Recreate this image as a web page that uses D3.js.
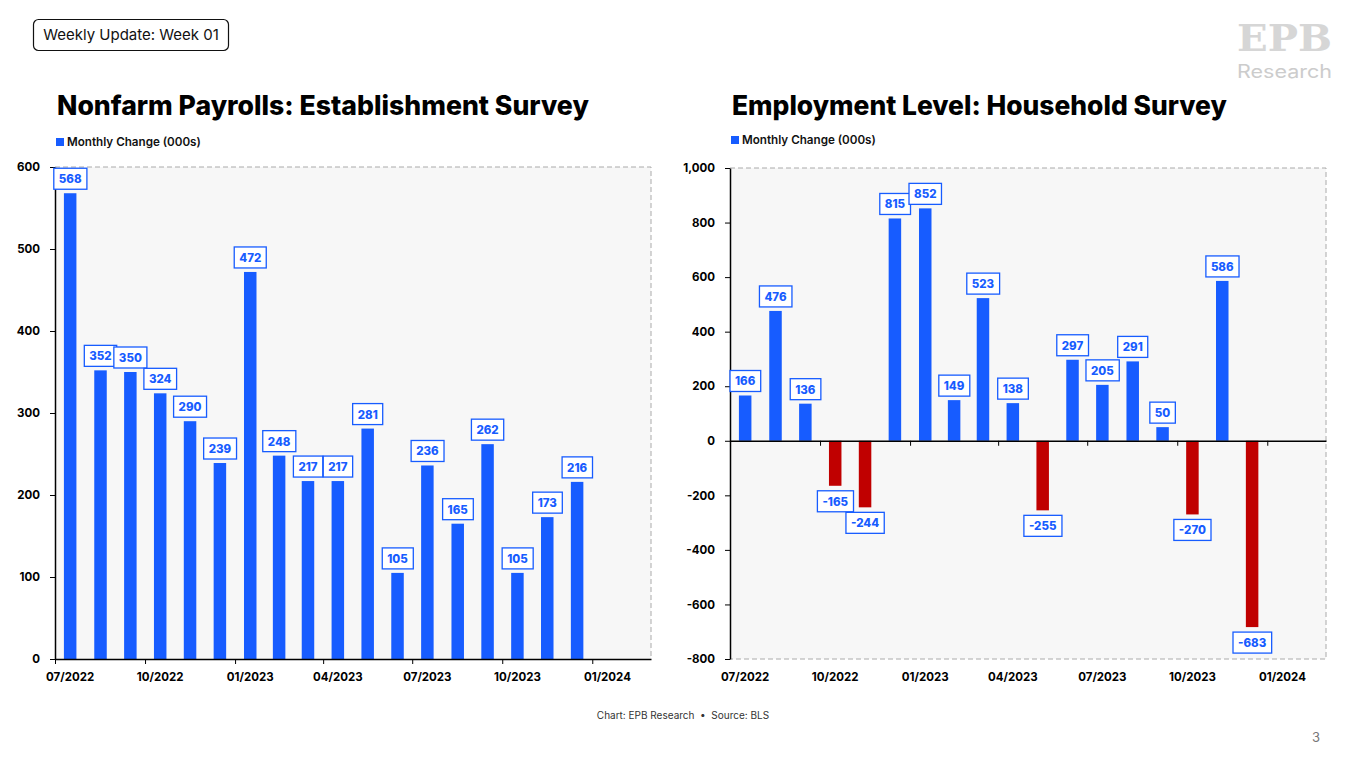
<!DOCTYPE html>
<html>
<head>
<meta charset="utf-8">
<script src="https://cdn.jsdelivr.net/npm/d3@7"></script>
<style>
  body { margin: 0; background: #fff; }
  svg { display: block; font-family: Inter, "Open Sans", sans-serif; }
</style>
</head>
<body>
<div id="chart"></div>
<script>
// Monthly data, Jul 2022 - Dec 2023
const months = ["2022-07", "2022-08", "2022-09", "2022-10", "2022-11", "2022-12",
  "2023-01", "2023-02", "2023-03", "2023-04", "2023-05", "2023-06",
  "2023-07", "2023-08", "2023-09", "2023-10", "2023-11", "2023-12"];
const payrolls = [568, 352, 350, 324, 290, 239, 472, 248, 217, 217, 281, 105, 236, 165, 262, 105, 173, 216];
const household = [166, 476, 136, -165, -244, 815, 852, 149, 523, 138, -255, 297, 205, 291, 50, -270, 586, -683];
const quarterMonths = ["2022-07", "2022-10", "2023-01", "2023-04", "2023-07", "2023-10", "2024-01"];
const quarterLabels = ["07/2022", "10/2022", "01/2023", "04/2023", "07/2023", "10/2023", "01/2024"];
const payrollTicks = [0, 100, 200, 300, 400, 500, 600];
const householdTicks = [-800, -600, -400, -200, 0, 200, 400, 600, 800, 1000];

const width = 1366;
const height = 767;
const blue = "#175cff";
const red = "#c00000";

const parseMonth = d3.timeParse("%Y-%m");
const fmt = d3.formatLocale({ decimal: ".", thousands: ",", grouping: [3], currency: ["$", ""], minus: "-" });

const svg = d3.select("#chart")
  .append("svg")
  .attr("width", width)
  .attr("height", height);

// header box
svg.append("rect")
  .attr("x", 33.5).attr("y", 19.5)
  .attr("width", 195).attr("height", 31)
  .attr("rx", 5)
  .attr("fill", "none")
  .attr("stroke", "#111")
  .attr("stroke-width", 1.2);

svg.append("text")
  .attr("x", 131).attr("y", 40)
  .attr("text-anchor", "middle")
  .style("font-size", "15px")
  .style("fill", "#111")
  .text("Weekly Update: Week 01");

// logo
svg.append("text")
  .attr("x", 1237).attr("y", 51)
  .attr("textLength", 95)
  .attr("lengthAdjust", "spacingAndGlyphs")
  .style("font-family", "'DejaVu Serif', serif")
  .style("font-weight", "bold")
  .style("font-size", "38px")
  .style("fill", "#d6d6d6")
  .text("EPB");

svg.append("text")
  .attr("x", 1237).attr("y", 78)
  .attr("textLength", 95)
  .attr("lengthAdjust", "spacingAndGlyphs")
  .style("font-size", "18px")
  .style("fill", "#cccccc")
  .text("Research");

// footer
svg.append("text")
  .attr("x", 683).attr("y", 719)
  .attr("text-anchor", "middle")
  .attr("xml:space", "preserve")
  .style("font-size", "10px")
  .style("fill", "#333")
  .text("Chart: EPB Research  \u2022  Source: BLS");

svg.append("text")
  .attr("x", 1316).attr("y", 742)
  .attr("text-anchor", "middle")
  .style("font-size", "13px")
  .style("fill", "#777")
  .text("3");

// shrink/grow font so the text spans the wanted width
function fitText(sel, target) {
  const w = sel.node().getComputedTextLength();
  const size = parseFloat(sel.style("font-size"));
  sel.style("font-size", (size * target / w) + "px");
}

function drawPanel(cfg) {
  const g = svg.append("g");
  const dates = months.map(parseMonth);
  const midMonth = d => new Date((d.getTime() + d3.timeMonth.offset(d, 1).getTime()) / 2);

  const x = d3.scaleTime()
    .domain([parseMonth("2022-07"), parseMonth("2024-03")])
    .range([cfg.left, cfg.right]);

  const y = d3.scaleLinear()
    .domain(cfg.domain)
    .range([cfg.bottom, cfg.top]);

  // title + legend
  const title = g.append("text")
    .attr("x", cfg.left + 2).attr("y", 115)
    .style("font-size", "26px")
    .style("font-weight", 800)
    .style("fill", "#000")
    .text(cfg.title);
  fitText(title, cfg.titleWidth);

  g.append("rect")
    .attr("x", cfg.left + 1).attr("y", cfg.legendY - 8)
    .attr("width", 8).attr("height", 8)
    .attr("fill", blue);
  const leg = g.append("text")
    .attr("x", cfg.left + 12).attr("y", cfg.legendY)
    .style("font-size", "11px")
    .style("font-weight", 600)
    .style("fill", "#111")
    .text("Monthly Change (000s)");
  fitText(leg, 134);

  // plot background with dashed frame
  g.append("rect")
    .attr("x", cfg.left).attr("y", cfg.top)
    .attr("width", cfg.right - cfg.left).attr("height", cfg.bottom - cfg.top)
    .attr("fill", "#f7f7f7");

  const frame = [[cfg.left, cfg.top], [cfg.right, cfg.top], [cfg.right, cfg.bottom]];
  if (cfg.domain[0] < 0) frame.push([cfg.left, cfg.bottom]);
  g.append("path")
    .attr("d", d3.line()(frame))
    .attr("fill", "none")
    .attr("stroke", "#aaa")
    .attr("stroke-dasharray", "5,3");

  // bars
  const bw = 12.5;
  g.selectAll(".bar")
    .data(cfg.values)
    .enter()
    .append("rect")
    .attr("class", "bar")
    .attr("x", (d, i) => x(midMonth(dates[i])) - bw / 2)
    .attr("y", d => y(Math.max(0, d)))
    .attr("width", bw)
    .attr("height", d => Math.abs(y(d) - y(0)))
    .attr("fill", d => d < 0 ? red : blue);

  // x axis at zero
  const quarters = quarterMonths.map(parseMonth);
  g.append("g")
    .attr("transform", `translate(0, ${y(0)})`)
    .call(d3.axisBottom(x).tickValues(quarters).tickSize(5).tickSizeOuter(0).tickFormat(""))
    .call(a => a.select(".domain").attr("stroke", "#000").attr("stroke-width", 1.5));

  // y axis
  g.append("g")
    .attr("transform", `translate(${cfg.left}, 0)`)
    .call(d3.axisLeft(y).tickValues(cfg.ticks).tickSize(5).tickSizeOuter(0).tickPadding(10)
      .tickFormat(fmt.format(cfg.tickFormat)))
    .call(a => a.select(".domain").attr("stroke", "#000").attr("stroke-width", 1.5))
    .call(a => a.selectAll("text")
      .style("font-family", "Inter, sans-serif")
      .style("font-size", "11.5px")
      .style("font-weight", 700)
      .style("fill", "#000"));

  // x labels at mid-month of quarter months
  g.selectAll(".xlab")
    .data(quarterLabels)
    .enter()
    .append("text")
    .attr("class", "xlab")
    .attr("x", (d, i) => x(midMonth(quarters[i])))
    .attr("y", cfg.bottom + 22)
    .attr("text-anchor", "middle")
    .style("font-size", "11.5px")
    .style("font-weight", 700)
    .style("fill", "#000")
    .text(d => d);

  // value boxes
  const labels = g.selectAll(".val")
    .data(cfg.values)
    .enter()
    .append("g")
    .attr("class", "val");

  labels.append("text")
    .attr("x", (d, i) => x(midMonth(dates[i])))
    .attr("y", d => d >= 0 ? y(d) - 10 : y(d) + 20)
    .attr("text-anchor", "middle")
    .style("font-size", "11.5px")
    .style("font-weight", 800)
    .style("fill", blue)
    .text(d => fmt.format(",")(d));

  labels.each(function (d) {
    const t = d3.select(this).select("text");
    const bb = t.node().getBBox();
    const w = bb.width + 10;
    const top = d >= 0 ? y(d) - 25 : y(d) + 5;
    d3.select(this).insert("rect", "text")
      .attr("x", bb.x + bb.width / 2 - w / 2)
      .attr("y", top)
      .attr("width", w)
      .attr("height", 21)
      .attr("fill", "#fff")
      .attr("stroke", blue)
      .attr("stroke-width", 1.3);
  });
}

drawPanel({
  title: "Nonfarm Payrolls: Establishment Survey",
  titleWidth: 532,
  legendY: 146,
  left: 55, right: 651, top: 167, bottom: 659,
  domain: [0, 600],
  ticks: payrollTicks,
  tickFormat: "d",
  values: payrolls
});

drawPanel({
  title: "Employment Level: Household Survey",
  titleWidth: 495,
  legendY: 144,
  left: 730, right: 1326, top: 168, bottom: 659,
  domain: [-800, 1000],
  ticks: householdTicks,
  tickFormat: ",",
  values: household
});
</script>
</body>
</html>
